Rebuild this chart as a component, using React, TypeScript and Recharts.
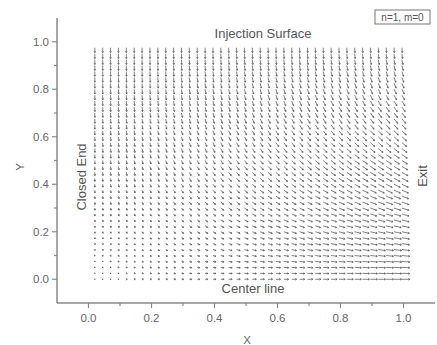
import React from "react";
import { ScatterChart, Scatter, XAxis, YAxis } from "recharts";

// grid columns (x) and rows (y) of the vector field
const xs = [0.02, 0.045, 0.07, 0.095, 0.12, 0.145, 0.17, 0.195, 0.22, 0.245, 0.27, 0.295, 0.32, 0.345, 0.37, 0.395, 0.42, 0.445, 0.47, 0.495, 0.52, 0.545, 0.57, 0.595, 0.62, 0.645, 0.67, 0.695, 0.72, 0.745, 0.77, 0.795, 0.82, 0.845, 0.87, 0.895, 0.92, 0.945, 0.97, 0.995];
const ys = [0, 0.025, 0.05, 0.075, 0.1, 0.125, 0.15, 0.175, 0.2, 0.225, 0.25, 0.275, 0.3, 0.325, 0.35, 0.375, 0.4, 0.425, 0.45, 0.475, 0.5, 0.525, 0.55, 0.575, 0.6, 0.625, 0.65, 0.675, 0.7, 0.725, 0.75, 0.775, 0.8, 0.825, 0.85, 0.875, 0.9, 0.925, 0.95, 0.975];
// axial speed factor per column
const colU = [0.03, 0.07, 0.11, 0.15, 0.19, 0.23, 0.27, 0.31, 0.35, 0.38, 0.42, 0.46, 0.5, 0.54, 0.58, 0.62, 0.66, 0.7, 0.74, 0.78, 0.82, 0.86, 0.9, 0.93, 0.97, 1.01, 1.05, 1.09, 1.13, 1.17, 1.21, 1.25, 1.29, 1.33, 1.37, 1.41, 1.44, 1.48, 1.52, 1.56];
// axial speed factor per row
const rowU = [1.0, 0.999, 0.997, 0.993, 0.988, 0.981, 0.972, 0.962, 0.951, 0.938, 0.924, 0.908, 0.891, 0.872, 0.853, 0.831, 0.809, 0.785, 0.76, 0.734, 0.707, 0.679, 0.649, 0.619, 0.588, 0.556, 0.522, 0.488, 0.454, 0.418, 0.383, 0.346, 0.309, 0.271, 0.233, 0.195, 0.156, 0.118, 0.078, 0.039];
// transverse (downward) speed per row
const rowV = [0, -0.039, -0.078, -0.118, -0.156, -0.195, -0.233, -0.271, -0.309, -0.346, -0.383, -0.418, -0.454, -0.488, -0.522, -0.556, -0.588, -0.619, -0.649, -0.679, -0.707, -0.734, -0.76, -0.785, -0.809, -0.831, -0.853, -0.872, -0.891, -0.908, -0.924, -0.938, -0.951, -0.962, -0.972, -0.981, -0.988, -0.993, -0.997, -0.999];

const xTicks = [0, 0.1, 0.2, 0.3, 0.4, 0.5, 0.6, 0.7, 0.8, 0.9, 1.0];
const yTicks = [0, 0.1, 0.2, 0.3, 0.4, 0.5, 0.6, 0.7, 0.8, 0.9, 1.0];

const field: { x: number; y: number; u: number; v: number }[] = [];
ys.forEach((y, j) => {
  xs.forEach((x, i) => {
    field.push({ x, y, u: colU[i] * rowU[j], v: rowV[j] });
  });
});

const FONT = "'Liberation Sans', Arial, sans-serif";
const AXIS = "#8a8a8a";
const TXT = "#666";
const ARROW = "#606060";
const SCALE = 5;

const Arrow = (props: any) => {
  const { cx, cy, payload } = props;
  if (cx == null || cy == null) return null;
  const dx = payload.u * SCALE;
  const dy = -payload.v * SCALE;
  const len = Math.sqrt(dx * dx + dy * dy);
  const tx = cx + dx;
  const ty = cy + dy;
  let head = null;
  if (len > 0.8) {
    const ux = dx / len;
    const uy = dy / len;
    const h = 1.6;
    const a = 0.5;
    const c = Math.cos(a);
    const s = Math.sin(a);
    const b1x = tx - h * (ux * c - uy * s);
    const b1y = ty - h * (ux * s + uy * c);
    const b2x = tx - h * (ux * c + uy * s);
    const b2y = ty - h * (-ux * s + uy * c);
    head = <path d={`M${b1x},${b1y}L${tx},${ty}L${b2x},${b2y}`} stroke={ARROW} strokeWidth={0.8} fill="none" />;
  }
  return (
    <g>
      <line x1={cx} y1={cy} x2={tx} y2={ty} stroke={ARROW} strokeWidth={0.8} />
      {head}
      {len <= 0.8 && <rect x={cx - 0.6} y={cy - 0.6} width={1.2} height={1.2} fill={ARROW} />}
    </g>
  );
};

const XTick = (props: any) => {
  const { x, y, payload } = props;
  const v = payload.value;
  const major = Math.round(v * 10) % 2 === 0;
  return (
    <g>
      <line x1={x} y1={y} x2={x} y2={y + (major ? 5 : 3)} stroke={AXIS} strokeWidth={1.2} />
      {major && (
        <text x={x} y={y + 19} textAnchor="middle" fontSize={11.5} fontFamily={FONT} fill={TXT}>
          {v.toFixed(1)}
        </text>
      )}
    </g>
  );
};

const YTick = (props: any) => {
  const { x, y, payload } = props;
  const v = payload.value;
  const major = Math.round(v * 10) % 2 === 0;
  return (
    <g>
      <line x1={x} y1={y} x2={x - (major ? 5 : 3)} y2={y} stroke={AXIS} strokeWidth={1.2} />
      {major && (
        <text x={x - 8} y={y + 4} textAnchor="end" fontSize={11.5} fontFamily={FONT} fill={TXT}>
          {v.toFixed(1)}
        </text>
      )}
    </g>
  );
};

export default function App() {
  return (
    <div style={{ position: "fixed", left: 0, top: 0, width: 437, height: 345, background: "#fff" }}>
      <ScatterChart width={437} height={345} margin={{ top: 18, right: 2, left: 0, bottom: 0 }}>
        <XAxis
          dataKey="x"
          type="number"
          domain={[-0.1, 1.1]}
          ticks={xTicks}
          tick={<XTick />}
          tickLine={false}
          tickSize={0}
          tickMargin={0}
          height={42}
          axisLine={{ stroke: AXIS, strokeWidth: 1.5 }}
          allowDataOverflow
        />
        <YAxis
          dataKey="y"
          type="number"
          domain={[-0.1, 1.1]}
          ticks={yTicks}
          tick={<YTick />}
          tickLine={false}
          tickSize={0}
          tickMargin={0}
          width={57}
          axisLine={{ stroke: AXIS, strokeWidth: 1.5 }}
          allowDataOverflow
        />
        <Scatter data={field} shape={<Arrow />} isAnimationActive={false} />
      </ScatterChart>
      <svg width={437} height={345} style={{ position: "absolute", left: 0, top: 0, pointerEvents: "none" }}>
        <text x={263} y={38} textAnchor="middle" fontSize={13} fontFamily={FONT} fill="#555">Injection Surface</text>
        <text x={253} y={293} textAnchor="middle" fontSize={13} fontFamily={FONT} fill="#555">Center line</text>
        <text x={0} y={0} transform="translate(86,177) rotate(-90)" textAnchor="middle" fontSize={13} fontFamily={FONT} fill="#555">Closed End</text>
        <text x={0} y={0} transform="translate(427,176) rotate(-90)" textAnchor="middle" fontSize={13} fontFamily={FONT} fill="#555">Exit</text>
        <text x={247} y={344} textAnchor="middle" fontSize={11.5} fontFamily={FONT} fill={TXT}>X</text>
        <text x={0} y={0} transform="translate(24,167) rotate(-90)" textAnchor="middle" fontSize={11.5} fontFamily={FONT} fill={TXT}>Y</text>
        <rect x={375} y={10} width={55} height={14} fill="#fff" stroke="#777" strokeWidth={1} />
        <text x={402.5} y={21} textAnchor="middle" fontSize={10} fontFamily={FONT} fill="#555">n=1, m=0</text>
      </svg>
    </div>
  );
}
